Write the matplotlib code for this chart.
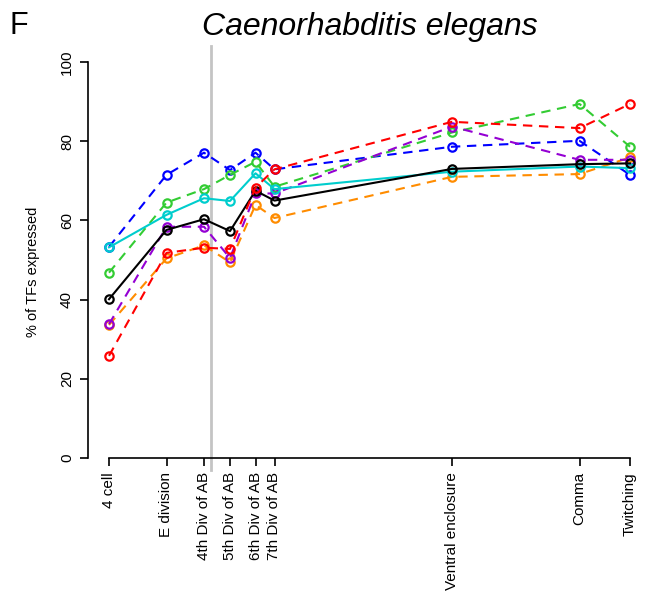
import matplotlib
matplotlib.use("Agg")
import matplotlib.pyplot as plt

# Developmental stages (x = relative developmental time, arbitrary units)
stages = ["4 cell", "E division", "4th Div of AB", "5th Div of AB", "6th Div of AB",
          "7th Div of AB", "Ventral enclosure", "Comma", "Twitching"]
stage_x = [0, 57.5, 95, 121, 146.5, 165.5, 343, 470.5, 521]
marker_stage_x = 101.7  # grey reference line just after 4th AB division

# % of TFs expressed, one series per colour
blue   = [53.3, 71.5, 77.1, 72.7, 77.1, 72.9, 78.6, 80.1, 71.5]
green  = [46.8, 64.5, 67.9, 71.5, 74.8, 68.5, 82.2, 89.4, 78.6]
orange = [33.6, 50.4, 53.7, 49.4, 63.9, 60.6, 71.0, 71.7, 75.9]
purple = [33.8, 58.4, 58.4, 50.5, 66.8, 66.8, 83.7, 75.3, 75.3]
cyan   = [53.2, 61.4, 65.6, 64.9, 71.9, 67.9, 72.3, 73.6, 73.2]
black  = [40.1, 57.6, 60.3, 57.3, 67.5, 65.0, 73.0, 74.2, 74.4]
red    = [25.8, 51.8, 53.1, 52.8, 68.3, 72.9, 84.9, 83.3, 89.4]

series = [
    (blue,   "#0000FF", "dashed"),
    (green,  "#33CC33", "dashed"),
    (orange, "#FF8C00", "dashed"),
    (purple, "#9400D3", "dashed"),
    (cyan,   "#00CDCD", "solid"),
    (black,  "#000000", "solid"),
    (red,    "#FF0000", "dashed"),
]

plt.rcParams["font.family"] = ["Liberation Sans", "DejaVu Sans"]

W, H = 647, 592
fig = plt.figure(figsize=(W / 100, H / 100), dpi=100)
# axes box in pixel terms: left spine at x=88, y=0 at 458 px, y=100 at 62 px
left_px, right_px, bottom_px, top_px = 88, 640, 458, 62
ax = fig.add_axes([left_px / W, 1 - bottom_px / H,
                   (right_px - left_px) / W, (bottom_px - top_px) / H])
ax.set_xlim(-(109 - left_px), right_px - 109)
ax.set_ylim(0, 100)

for vals, col, ls in series:
    line, = ax.plot(stage_x, vals, color=col, lw=1.5, marker="o", ms=6,
                    mfc="none", mec=col, mew=1.6, clip_on=False)
    if ls == "dashed":
        line.set_dashes((4.5, 3.2))

ax.axvline(marker_stage_x, ymin=-0.03, ymax=1.04, color="#C4C4C4", lw=2,
           clip_on=False, zorder=0)

for side in ("top", "right"):
    ax.spines[side].set_visible(False)
ax.spines["left"].set_bounds(0, 100)
ax.spines["bottom"].set_bounds(stage_x[0], stage_x[-1])
for side in ("left", "bottom"):
    ax.spines[side].set_linewidth(1.2)

ax.set_yticks([0, 20, 40, 60, 80, 100])
ax.set_yticklabels(["0", "20", "40", "60", "80", "100"], rotation=90, va="center",
                   fontsize=11)
ax.set_xticks(stage_x)
ax.set_xticklabels(stages, rotation=90, fontsize=11)
ax.tick_params(axis="both", direction="out", length=6, width=1.2, pad=4)

ax.set_ylabel("% of TFs expressed", fontsize=10.5)
ax.yaxis.set_label_coords(-(88 - 40) / (right_px - left_px), 0.47)

fig.text(370 / W, 1 - 27 / H, "Caenorhabditis elegans", fontsize=23, style="italic",
         ha="center", va="center")
fig.text(9 / W, 1 - 26 / H, "F", fontsize=22, ha="left", va="center")

fig.savefig("out.png", dpi=100)
